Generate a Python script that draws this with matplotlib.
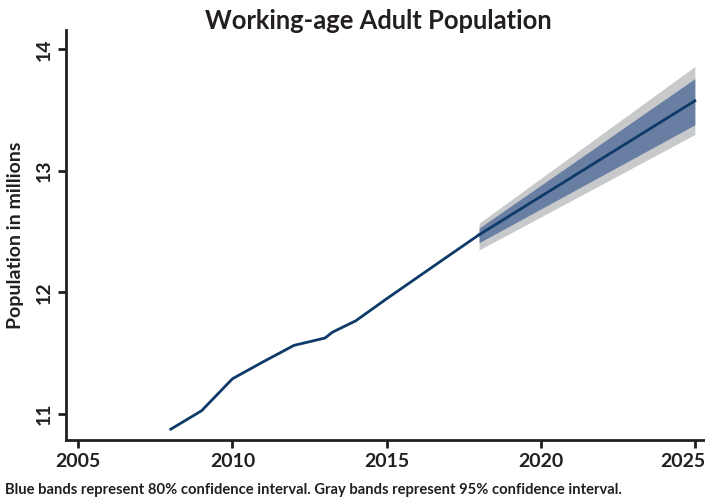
import matplotlib.pyplot as plt
import matplotlib.transforms as mtransforms
import numpy as np

plt.rcParams['font.family'] = ['Lato', 'DejaVu Sans']

# observed series
years = [2008, 2009, 2010, 2011, 2012, 2013, 2013.25, 2014, 2015, 2016, 2017, 2018]
pop = [10.875, 11.027, 11.29, 11.43, 11.565, 11.625, 11.674, 11.767, 11.948, 12.124, 12.30, 12.475]

# forecast with bands
fc_years = [2018, 2025]
fc_mid = [12.475, 13.577]
lo80 = [12.41, 13.38]
hi80 = [12.53, 13.76]
lo95 = [12.35, 13.30]
hi95 = [12.57, 13.86]

fig = plt.figure(figsize=(7.05, 5.01), dpi=100)
ax = fig.add_axes([0.0932, 0.1218, 0.9068, 0.8182])

ax.fill_between(fc_years, lo95, hi95, color='#c8c9cb', lw=0)
ax.fill_between(fc_years, lo80, hi80, color='#697ea3', lw=0)
ax.plot(years, pop, color='#0d3a68', lw=2)
ax.plot(fc_years, fc_mid, color='#0d3a68', lw=2)

ax.set_xlim(2004.59, 2025.33)
ax.set_ylim(10.786, 14.16)
ax.set_xticks([2005, 2010, 2015, 2020, 2025])
ax.set_yticks([11, 12, 13, 14])
for s in ['top', 'right']:
    ax.spines[s].set_visible(False)
for s in ['left', 'bottom']:
    ax.spines[s].set_linewidth(2)
    ax.spines[s].set_color('#231f20')
ax.tick_params(axis='both', length=6, width=2, color='#231f20', labelsize=14, labelcolor='#231f20')
for lab in ax.get_xticklabels():
    lab.set_fontweight('bold')
for lab in ax.get_yticklabels():
    lab.set_fontweight('bold')
    lab.set_rotation(90)
    lab.set_va('center')
# last x label is pushed left so it stays inside the picture
last = ax.get_xticklabels()[-1]
last.set_transform(last.get_transform() + mtransforms.ScaledTranslation(-12 / 100, 0, fig.dpi_scale_trans))

ax.set_ylabel('Population in millions', fontsize=14, fontweight='bold', color='#231f20', labelpad=8)
fig.text(0.536, 0.958, 'Working-age Adult Population', ha='center', va='center',
         fontsize=18.4, fontweight='bold', color='#231f20')
fig.text(0.007, 0.022, 'Blue bands represent 80% confidence interval. Gray bands represent 95% confidence interval.',
         ha='left', va='center', fontsize=10.6, fontweight='bold', color='#231f20')

fig.savefig('out.png', dpi=100)
